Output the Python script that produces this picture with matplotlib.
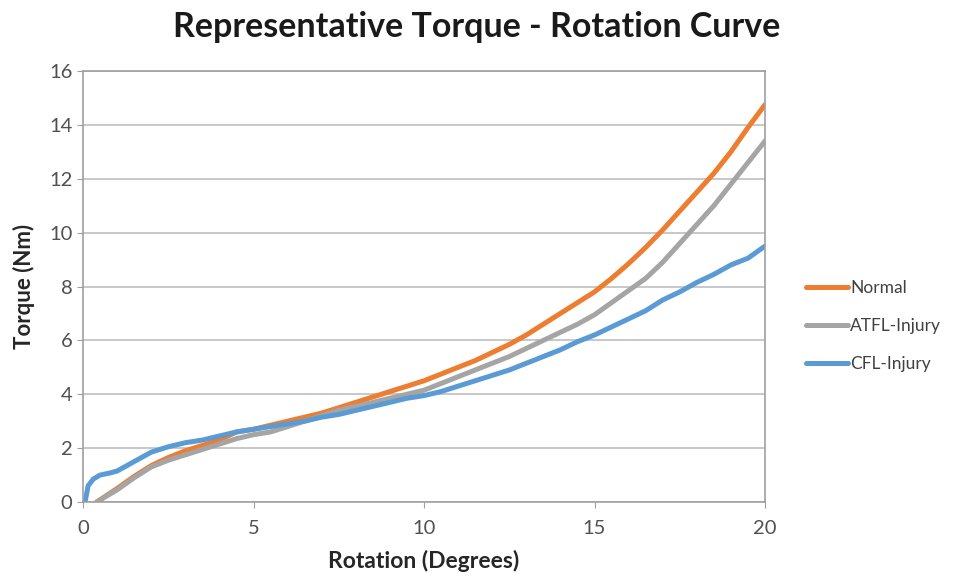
import numpy as np
import matplotlib.pyplot as plt

plt.rcParams['font.family'] = ['Lato', 'DejaVu Sans']

# Normal
x_normal = [0.4, 1, 1.5, 2, 2.5, 3, 3.5, 4, 4.5, 5, 5.5, 6, 6.5, 7, 7.5, 8, 8.5, 9, 9.5, 10,
            10.5, 11, 11.5, 12, 12.5, 13, 13.5, 14, 14.5, 15, 15.5, 16, 16.5, 17, 17.5, 18,
            18.5, 19, 19.5, 20]
y_normal = [0, 0.5, 0.95, 1.35, 1.65, 1.9, 2.1, 2.3, 2.6, 2.7, 2.85, 3.0, 3.15, 3.3, 3.5, 3.7,
            3.9, 4.1, 4.3, 4.5, 4.75, 5.0, 5.25, 5.55, 5.85, 6.2, 6.6, 7.0, 7.4, 7.8, 8.3, 8.85,
            9.45, 10.1, 10.8, 11.5, 12.2, 13.0, 13.9, 14.75]

# ATFL-Injury
x_atfl = x_normal
y_atfl = [0, 0.45, 0.9, 1.3, 1.55, 1.75, 1.95, 2.15, 2.35, 2.5, 2.6, 2.8, 3.0, 3.2, 3.4, 3.55,
          3.7, 3.85, 4.0, 4.15, 4.4, 4.65, 4.9, 5.15, 5.4, 5.7, 6.0, 6.3, 6.6, 6.95, 7.4, 7.85,
          8.3, 8.9, 9.6, 10.3, 11.0, 11.8, 12.6, 13.4]

# CFL-Injury
x_cfl = [0.06, 0.15, 0.3, 0.5, 0.8, 1, 1.5, 2, 2.5, 3, 3.5, 4, 4.5, 5, 5.5, 6, 6.5, 7, 7.5, 8,
         8.5, 9, 9.5, 10, 10.5, 11, 11.5, 12, 12.5, 13, 13.5, 14, 14.5, 15, 15.5, 16, 16.5, 17,
         17.5, 18, 18.5, 19, 19.5, 20]
y_cfl = [0, 0.6, 0.85, 1.0, 1.08, 1.15, 1.5, 1.85, 2.05, 2.2, 2.3, 2.45, 2.6, 2.7, 2.8, 2.9,
         3.0, 3.15, 3.25, 3.4, 3.55, 3.7, 3.85, 3.95, 4.1, 4.3, 4.5, 4.7, 4.9, 5.15, 5.4, 5.65,
         5.95, 6.2, 6.5, 6.8, 7.1, 7.5, 7.8, 8.15, 8.45, 8.8, 9.05, 9.5]

fig = plt.figure(figsize=(9.57, 5.77), dpi=100)
ax = fig.add_axes([83 / 957, 75 / 577, 682 / 957, 431 / 577])

ax.plot(x_normal, y_normal, color='#ED7D31', linewidth=3.6, label='Normal', solid_capstyle='round')
ax.plot(x_atfl, y_atfl, color='#A5A5A5', linewidth=3.6, label='ATFL-Injury', solid_capstyle='round')
ax.plot(x_cfl, y_cfl, color='#5B9BD5', linewidth=3.6, label='CFL-Injury', solid_capstyle='round')

ax.set_xlim(0, 20)
ax.set_ylim(0, 16)
ax.set_xticks([0, 5, 10, 15, 20])
ax.set_yticks(range(0, 17, 2))
ax.grid(axis='y', color='#BFBFBF', linewidth=1.2)
ax.set_axisbelow(True)
for s in ax.spines.values():
    s.set_color('#A0A0A0')
    s.set_linewidth(1.2)
ax.tick_params(colors='#A0A0A0', labelcolor='#505050', labelsize=14.5, length=4)
ax.tick_params(axis='x', pad=9)

ax.set_xlabel('Rotation (Degrees)', fontsize=16.5, fontweight='bold', color='#262626', labelpad=9)
ax.set_ylabel('Torque (Nm)', fontsize=16, fontweight='bold', color='#262626', labelpad=10)
fig.suptitle('Representative Torque - Rotation Curve', fontsize=24.5, fontweight='bold',
             color='#1a1a1a', x=477 / 957, y=1 - 27 / 577, va='center')

fig.legend(loc='center left', bbox_to_anchor=(806 / 957, 1 - 326 / 577), frameon=False,
           fontsize=12.5, handlelength=2.4, handletextpad=0.15, labelspacing=1.25,
           borderpad=0, borderaxespad=0, labelcolor='#404040')

fig.savefig('out.png', dpi=100)
